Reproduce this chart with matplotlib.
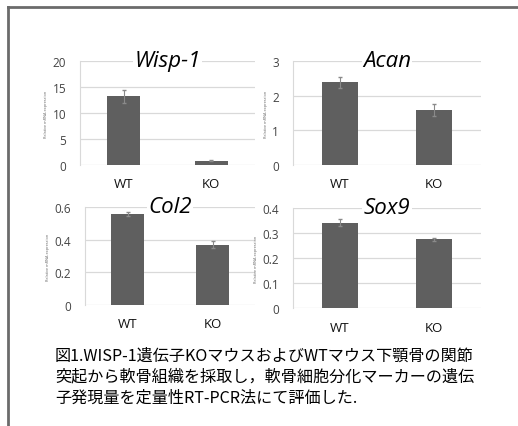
import matplotlib.pyplot as plt
from matplotlib.lines import Line2D

plt.rcParams['font.family'] = ['Open Sans', 'DejaVu Sans']

groups = ['WT', 'KO']
genes = ['Wisp-1', 'Acan', 'Col2', 'Sox9']
means = [[13.2, 0.8], [2.38, 1.58], [0.555, 0.37], [0.342, 0.275]]
errors = [[1.3, 0.12], [0.15, 0.18], [0.012, 0.022], [0.013, 0.007]]
ylims = [20, 3, 0.6, 0.4]
ysteps = [5, 1, 0.2, 0.1]

caption = ['図1.WISP-1遺伝子KOマウスおよびWTマウス下顎骨の関節',
           '突起から軟骨組織を採取し，軟骨細胞分化マーカーの遺伝',
           '子発現量を定量性RT-PCR法にて評価した.']

W, H = 518, 427
# panel boxes in pixels: left, top, right, bottom
boxes = [(80, 62, 255, 166), (293, 62, 481, 166),
         (85, 208, 255, 306), (293, 209, 481, 309)]

fig = plt.figure(figsize=(W / 100, H / 100), dpi=100)
fig.patch.set_facecolor('white')

# frame around the figure (left and top edges visible)
fig.add_artist(Line2D([8 / W, 8 / W], [0, 1 - 8 / H], transform=fig.transFigure, color='#6b6b6b', lw=2))
fig.add_artist(Line2D([8 / W, 1], [1 - 8 / H, 1 - 8 / H], transform=fig.transFigure, color='#6b6b6b', lw=2))

for i, gene in enumerate(genes):
    l, t, r, b = boxes[i]
    ax = fig.add_axes([l / W, 1 - b / H, (r - l) / W, (b - t) / H])
    ax.bar([0, 1], means[i], width=0.38, color='#5f5f5f', zorder=3)
    ax.errorbar([0, 1], means[i], yerr=errors[i], fmt='none', ecolor='#8a8a8a',
                elinewidth=0.8, capsize=1.5, zorder=4)
    ax.set_xlim(-0.5, 1.5)
    ax.set_ylim(0, ylims[i])
    n = int(round(ylims[i] / ysteps[i]))
    ticks = [k * ysteps[i] for k in range(n + 1)]
    ax.set_yticks(ticks)
    ax.set_yticklabels(['{:g}'.format(round(v, 2)) for v in ticks])
    ax.yaxis.grid(True, color='#d9d9d9', lw=0.9, zorder=0)
    ax.set_xticks([0, 1])
    ax.set_xticklabels(groups, fontsize=9.5, color='#111111')
    ax.tick_params(axis='x', length=0, pad=9)
    ax.tick_params(axis='y', length=0, labelsize=8.5, labelcolor='#444444', pad=10)
    for s in ['top', 'right', 'bottom']:
        ax.spines[s].set_visible(False)
    ax.spines['left'].set_color('#d9d9d9')
    ax.set_ylabel('Relative mRNA expression', fontsize=2.8, color='#666666', labelpad=3)
    ax.text(0.5, 1.0, gene, transform=ax.transAxes, ha='center', va='center',
            fontsize=16, style='italic', color='black', zorder=5,
            bbox=dict(facecolor='white', edgecolor='none', pad=1))

for j, line in enumerate(caption):
    fig.text(55 / W, 1 - (356 + j * 21) / H, line, ha='left', va='center', fontsize=11.6,
             family=['Noto Sans CJK JP', 'DejaVu Sans'], color='black')

fig.savefig('out.png', dpi=100)
